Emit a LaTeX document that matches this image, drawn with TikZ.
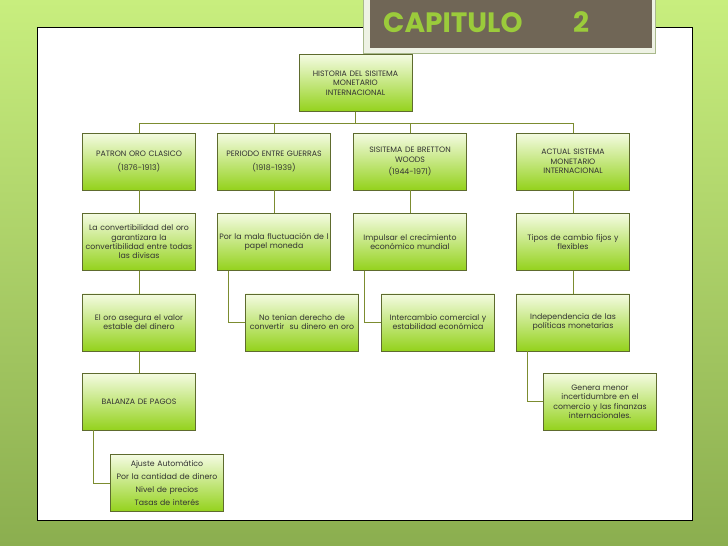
\documentclass[tikz,border=0pt]{standalone}
\usepackage{fontspec}
\setmainfont{Poppins}
\usepackage{tikz}
\usetikzlibrary{positioning}
\definecolor{bgtop}{HTML}{C8EE7E}
\definecolor{bgbot}{HTML}{8BAE4F}
\definecolor{boxtop}{HTML}{F4FBE2}
\definecolor{boxbot}{HTML}{94D21C}
\definecolor{boxline}{HTML}{5E6B2E}
\definecolor{linkcol}{HTML}{7C8C30}
\definecolor{titlebg}{HTML}{706656}
\definecolor{titleframe}{HTML}{EEF2E4}
\definecolor{titleedge}{HTML}{A9B98C}
\definecolor{titlegreen}{HTML}{9BCB3B}
\definecolor{txt}{HTML}{333333}

\begin{document}
\begin{tikzpicture}[x=1pt,y=-1pt,
    box/.style={draw=boxline, top color=boxtop, bottom color=boxbot, minimum width=113pt, minimum height=57pt, text width=111pt, align=center, inner sep=1pt, font=\fontsize{7.8}{9.3}\selectfont, text=txt},
    link/.style={draw=linkcol, line width=0.9pt},
    titletext/.style={anchor=base west, inner sep=0pt, text=titlegreen, font=\bfseries\fontsize{28}{28}\selectfont}]
    \useasboundingbox (0,0) rectangle (728,546);
    \shade[top color=bgtop, bottom color=bgbot] (0,0) rectangle (728,546);
    \filldraw[fill=white, draw=black, line width=1pt] (37,27) rectangle (692,520);
    \filldraw[fill=titleframe, draw=titleedge] (363,-2) rectangle (655,53);
    \fill[titlebg] (370,-2) rectangle (652,48);
    \node[titletext] (cap) at (383,32) {CAPITULO};
    \node[titletext] (capnum) at (573,32) {2};

    \node[box] (root) at (355.5,83) {HISTORIA DEL SISITEMA\\MONETARIO\\INTERNACIONAL};
    \node[box] (patron) at (139,161.5) {PATRON ORO CLASICO\\[4pt](1876-1913)};
    \node[box] (periodo) at (274,161.5) {PERIODO ENTRE GUERRAS\\[4pt](1918-1939)};
    \node[box] (bretton) at (410,161.5) {SISITEMA DE BRETTON\\WOODS\\[3pt](1944-1971)};
    \node[box] (actual) at (573,161.5) {ACTUAL SISTEMA\\MONETARIO\\INTERNACIONAL};

    \node[box, below=23pt of patron] (patron2) {La convertibilidad del oro\\garantizara la\\convertibilidad entre todas\\las divisas};
    \node[box, below=23pt of periodo] (periodo2) {Por la mala fluctuación de l\\papel moneda};
    \node[box, below=23pt of bretton] (bretton2) {Impulsar el crecimiento\\económico mundial};
    \node[box, below=23pt of actual] (actual2) {Tipos de cambio fijos y\\flexibles};

    \node[box, below=23pt of patron2] (patron3) {El oro asegura el valor\\estable del dinero};
    \node[box, below=23pt of periodo2, xshift=28pt] (periodo3) {No tenian derecho de\\convertir\ \ su dinero en oro};
    \node[box, below=23pt of bretton2, xshift=28pt] (bretton3) {Intercambio comercial y\\estabilidad económica};
    \node[box, below=23pt of actual2] (actual3) {Independencia de las\\políticas monetarias};

    \node[box, below=22pt of patron3] (balanza) {BALANZA DE PAGOS};
    \node[box, below=22pt of actual3, xshift=27pt] (actual4) {Genera menor\\incertidumbre en el\\comercio y las finanzas\\internacionales.};
    \node[box, below=24pt of balanza, xshift=28pt, font=\fontsize{7.8}{13}\selectfont] (ajuste) {Ajuste Automático\\Por la cantidad de dinero\\Nivel de precios\\Tasas de interés};

    \draw[link] (root.south) -- ++(0,11.5) coordinate (bus);
    \foreach \n in {patron,periodo,bretton,actual}
        \draw[link] (bus) -| (\n.north);
    \foreach \a/\b in {patron/patron2,periodo/periodo2,bretton/bretton2,actual/actual2,patron2/patron3,actual2/actual3,patron3/balanza}
        \draw[link] (\a) -- (\b);
    \foreach \a/\b in {periodo2/periodo3,bretton2/bretton3,actual3/actual4,balanza/ajuste}
        \draw[link] ([xshift=11pt]\a.south west) |- (\b.west);
\end{tikzpicture}
\end{document}
